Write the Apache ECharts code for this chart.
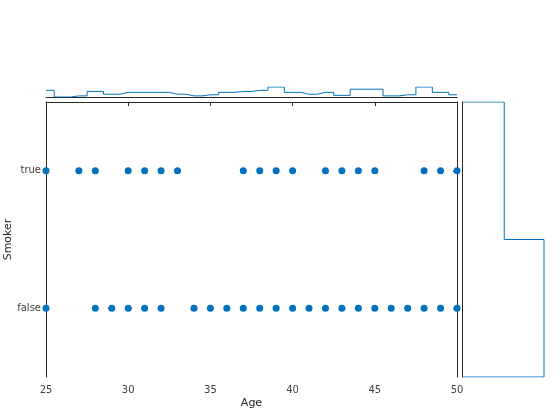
<!DOCTYPE html>
<html><head><meta charset="utf-8">
<script src="https://cdn.jsdelivr.net/npm/echarts@6/dist/echarts.min.js"></script>
<style>html,body{margin:0;padding:0;background:#fff}#c{width:560px;height:420px}</style>
</head><body><div id="c"></div>
<script>
// Data
var smokerCategories = ['false', 'true'];
var trueAges = [25, 27, 28, 30, 31, 32, 33, 37, 38, 39, 40, 42, 43, 44, 45, 48, 49, 50];
var falseAges = [25, 28, 29, 30, 31, 32, 34, 35, 36, 37, 38, 39, 40, 41, 42, 43, 44, 45, 46, 47, 48, 49, 50];
var histAges = [25, 26, 27, 28, 29, 30, 31, 32, 33, 34, 35, 36, 37, 38, 39, 40, 41, 42, 43, 44, 45, 46, 47, 48, 49, 50];
var histCounts = [6, 0, 1, 5, 2.5, 4.2, 4.2, 4.2, 2.5, 1, 2, 4.2, 5, 6, 9, 4.2, 2.5, 4.2, 1.5, 7, 7, 1, 2, 9, 4.2, 2];
var smokerCounts = [66, 34]; // false, true

var BLUE = '#0072BD', AX = '#262626';
var scatterData = [];
falseAges.forEach(function (a) { scatterData.push([a, 'false']); });
trueAges.forEach(function (a) { scatterData.push([a, 'true']); });
var topHist = histAges.map(function (a, i) { return [a, histCounts[i]]; });
// right histogram stairs outline (bins centred on category indices)
var n = smokerCounts.length;
var rightHist = [[0, -0.5]];
for (var i = 0; i < n; i++) {
  rightHist.push([smokerCounts[i], i - 0.5]);
  rightHist.push([smokerCounts[i], i + 0.5]);
}
rightHist.push([0, n - 0.5]);

var chart = echarts.init(document.getElementById('c'), null, {renderer: 'canvas'});
var labelFont = {fontFamily: 'DejaVu Sans', fontSize: 10, color: '#404040'};
chart.setOption({
  animation: false,
  grid: [
    {left: 46, top: 102, width: 411, height: 275, containLabel: false, outerBoundsMode: 'none'},
    {left: 46, top: 87, width: 411, height: 10, containLabel: false, outerBoundsMode: 'none'},
    {left: 462, top: 102, width: 82, height: 275, containLabel: false, outerBoundsMode: 'none'}
  ],
  xAxis: [
    {gridIndex: 0, type: 'value', min: 25, max: 50, interval: 5,
     name: 'Age', nameLocation: 'middle', nameGap: 21, nameMoveOverlap: false,
     nameTextStyle: {fontFamily: 'DejaVu Sans', fontSize: 11, color: AX},
     axisLine: {lineStyle: {color: AX}}, axisTick: {inside: true, length: 4, lineStyle: {color: AX}},
     axisLabel: Object.assign({margin: 8}, labelFont), splitLine: {show: false}},
    {gridIndex: 0, type: 'value', position: 'top', min: 25, max: 50, interval: 5,
     axisLine: {show: true, lineStyle: {color: AX}}, axisTick: {show: true, inside: true, length: 4, lineStyle: {color: AX}},
     axisLabel: {show: false}, splitLine: {show: false}},
    {gridIndex: 1, type: 'value', min: 25, max: 50,
     axisLine: {show: true, lineStyle: {color: AX}}, axisTick: {show: false},
     axisLabel: {show: false}, splitLine: {show: false}},
    {gridIndex: 2, type: 'value', min: 0, max: 'dataMax',
     axisLine: {show: false}, axisTick: {show: false},
     axisLabel: {show: false}, splitLine: {show: false}}
  ],
  yAxis: [
    {gridIndex: 0, type: 'category', data: smokerCategories, boundaryGap: true,
     name: 'Smoker', nameLocation: 'middle', nameGap: 32, nameMoveOverlap: false,
     nameTextStyle: {fontFamily: 'DejaVu Sans', fontSize: 11, color: AX},
     axisLine: {lineStyle: {color: AX}}, axisTick: {inside: true, alignWithLabel: true, length: 4, lineStyle: {color: AX}},
     axisLabel: Object.assign({margin: 5}, labelFont), splitLine: {show: false}},
    {gridIndex: 0, type: 'category', data: smokerCategories, position: 'right', boundaryGap: true,
     axisLine: {show: true, lineStyle: {color: AX}}, axisTick: {show: true, inside: true, alignWithLabel: true, length: 4, lineStyle: {color: AX}},
     axisLabel: {show: false}, splitLine: {show: false}},
    {gridIndex: 1, type: 'value', min: 0, max: 'dataMax',
     axisLine: {show: false}, axisTick: {show: false}, axisLabel: {show: false}, splitLine: {show: false}},
    {gridIndex: 2, type: 'value', min: -0.5, max: n - 0.5,
     axisLine: {show: true, onZero: false, lineStyle: {color: AX}}, axisTick: {show: false},
     axisLabel: {show: false}, splitLine: {show: false}}
  ],
  series: [
    {type: 'scatter', xAxisIndex: 0, yAxisIndex: 0, data: scatterData,
     symbol: 'circle', symbolSize: 7, itemStyle: {color: BLUE, opacity: 1}},
    {type: 'line', xAxisIndex: 2, yAxisIndex: 2, data: topHist, step: 'middle',
     showSymbol: false, symbol: 'none', lineStyle: {color: BLUE, width: 1}, z: 1},
    {type: 'line', xAxisIndex: 3, yAxisIndex: 3, data: rightHist,
     showSymbol: false, symbol: 'none', lineStyle: {color: BLUE, width: 1}, z: 1}
  ]
});
</script></body></html>
